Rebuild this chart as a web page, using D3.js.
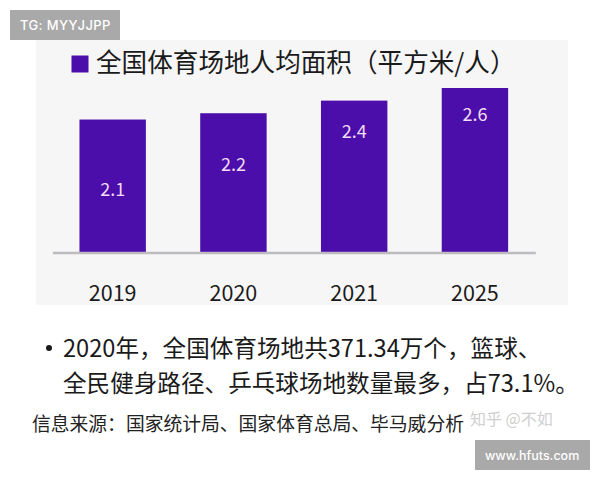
<!DOCTYPE html>
<html><head><meta charset="utf-8">
<script src="https://cdn.jsdelivr.net/npm/d3@7/dist/d3.min.js"></script>
<style>html,body{margin:0;padding:0;background:#fff}svg{display:block}text{font-family:"Noto Sans CJK SC","Noto Sans",sans-serif}</style>
</head><body><svg id="c" width="600" height="480"></svg>
<script>
const years = ["2019","2020","2021","2025"];
const areaValues = [2.1,2.2,2.4,2.6];
const valueLabels = ["2.1","2.2","2.4","2.6"];
const chartTitle = "全国体育场地人均面积（平方米/人）";
const noteLines = ["2020年，全国体育场地共371.34万个，篮球、","全民健身路径、乒乓球场地数量最多，占73.1%。"];
const sourceText = "信息来源：国家统计局、国家体育总局、毕马威分析";
const zhihuMark = "知乎 @不如";
const tagTop = "TG: MYYJJPP";
const tagBottom = "www.hfuts.com";

const svg = d3.select("#c");
const purple = "#4b0eaa";
svg.append("rect").attr("x",36).attr("y",40).attr("width",532).attr("height",265).attr("fill","#f6f6f7");

const x = d3.scaleBand().domain(years).range([52.3,535.3]).paddingInner(0.45).paddingOuter(0.225);
const y = d3.scaleLinear().domain([0,2.6]).range([252,88]);

svg.append("rect").attr("x",71.5).attr("y",55.5).attr("width",17).attr("height",17).attr("fill",purple);
svg.append("text").attr("x",96).attr("y",72).attr("font-size",25.6).attr("fill","#1a1a1a").text(chartTitle);

svg.selectAll("rect.bar").data(areaValues).join("rect").attr("class","bar")
  .attr("x",(d,i)=>x(years[i])).attr("width",x.bandwidth())
  .attr("y",d=>y(d)).attr("height",d=>y(0)-y(d)).attr("fill",purple);

svg.selectAll("text.val").data(areaValues).join("text").attr("class","val")
  .attr("x",(d,i)=>x(years[i])+x.bandwidth()/2)
  .attr("y",(d,i)=>[196,171,138,121][i])
  .attr("text-anchor","middle").attr("font-size",18).attr("fill","#f3dcf5")
  .text((d,i)=>valueLabels[i]);

const axis = svg.append("g").attr("transform","translate(0,252.5)")
  .call(d3.axisBottom(x).tickSize(0).tickPadding(33));
axis.select(".domain").attr("stroke","#bdbbbf").attr("stroke-width",2.5);
axis.selectAll("text").attr("font-size",21.5).attr("fill","#1a1a1a")
  .style("font-family",'"Noto Sans CJK SC","Noto Sans",sans-serif');

svg.append("circle").attr("cx",49).attr("cy",348).attr("r",3).attr("fill","#1a1a1a");
svg.selectAll("text.note").data(noteLines).join("text").attr("class","note")
  .attr("x",63).attr("y",(d,i)=>[357,392][i]).attr("font-size",23.6).attr("fill","#1a1a1a").text(d=>d);
svg.append("text").attr("x",32).attr("y",431).attr("font-size",18.8).attr("fill","#222").text(sourceText);
svg.append("text").attr("x",470).attr("y",425).attr("font-size",16).attr("fill","#cfcfcf").text(zhihuMark);

svg.append("rect").attr("x",10).attr("y",10).attr("width",110).attr("height",30).attr("fill","#a9a9a9");
svg.append("text").attr("x",20).attr("y",30).attr("font-size",13).attr("font-weight",500).attr("letter-spacing",0.4).attr("fill","#fff").style("font-family","Inter").text(tagTop);
svg.append("rect").attr("x",475).attr("y",440).attr("width",115).attr("height",30).attr("fill","#a9a9a9");
svg.append("text").attr("x",485).attr("y",460).attr("font-size",12.5).attr("font-weight",500).attr("fill","#fff").style("font-family","Inter").text(tagBottom);
</script></body></html>
